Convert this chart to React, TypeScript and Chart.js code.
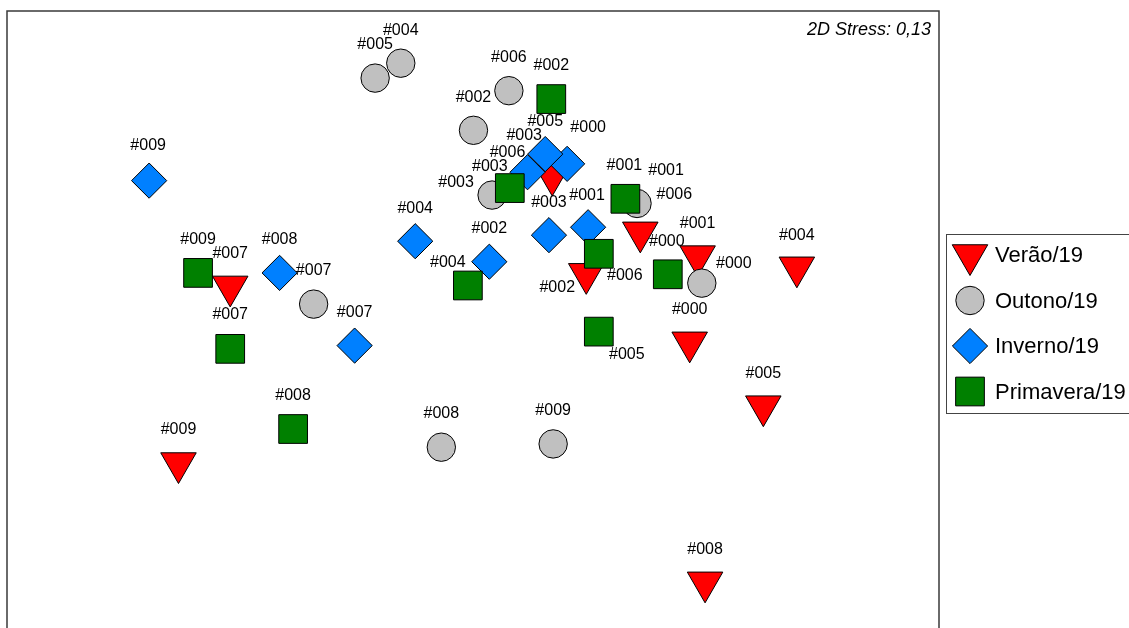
import React, { useEffect, useRef } from "react";
import { Chart, registerables } from "chart.js";
import { drawPoint } from "chart.js/helpers";

Chart.register(...registerables);

// ---- Data (NMDS coordinates) ----
const sampleIds = ["#000", "#001", "#002", "#003", "#004", "#005", "#006", "#007", "#008", "#009"];
const seasonNames = ["Verão/19", "Outono/19", "Inverno/19", "Primavera/19"];
const stressText = "2D Stress: 0,13";

const veraoX = [0.465, 0.482, 0.243, 0.17, 0.695, 0.623, 0.359, -0.521, 0.498, -0.632];
const veraoY = [-0.051, 0.134, 0.096, 0.307, 0.11, -0.188, 0.185, 0.069, -0.566, -0.31];

const outonoX = [0.491, 0.352, 0.001, 0.041, -0.155, -0.21, 0.077, -0.342, -0.068, 0.172];
const outonoY = [0.076, 0.247, 0.404, 0.265, 0.548, 0.516, 0.489, 0.031, -0.276, -0.269];

const invernoX = [0.202, 0.247, 0.035, 0.163, -0.124, 0.155, 0.117, -0.254, -0.415, -0.695];
const invernoY = [0.332, 0.196, 0.122, 0.179, 0.166, 0.353, 0.314, -0.058, 0.098, 0.296];

const primaveraX = [0.418, 0.327, 0.168, 0.079, -0.011, 0.27, 0.27, -0.521, -0.386, -0.59];
const primaveraY = [0.095, 0.257, 0.471, 0.28, 0.071, -0.028, 0.139, -0.065, -0.237, 0.098];

// ---- Label placement (pixel offsets from marker) ----
const veraoLabelOff = [[0, -33], [0, -33], [-29, 14], [-28, -40], [0, -32], [0, -33], [34, -38], [0, -33], [0, -33], [0, -33]];
const outonoLabelOff = [[32, -20], [29, -33], [0, -33], [-36, -12], [0, -33], [0, -34], [0, -33], [0, -34], [0, -34], [0, -33]];
const invernoLabelOff = [[21, -36], [-1, -32], [0, -33], [0, -33], [0, -33], [0, -32], [-20, -20], [0, -33], [0, -33], [-1, -35]];
const primaveraLabelOff = [[-1, -33], [-1, -33], [0, -33], [-20, -21], [-20, -23], [28, 23], [26, 22], [0, -34], [0, -33], [0, -33]];

const toPoints = (xs: number[], ys: number[]) => xs.map((x, i) => ({ x, y: ys[i] }));

const styles = [
  { pointStyle: "triangle", radius: 20.5, rotation: 180, color: "#FF0000", order: 4 },
  { pointStyle: "circle", radius: 14.2, rotation: 0, color: "#C0C0C0", order: 3 },
  { pointStyle: "rectRot", radius: 17.6, rotation: 0, color: "#0080FF", order: 2 },
  { pointStyle: "rect", radius: 20.3, rotation: 0, color: "#008000", order: 1 },
];

const labelOffsets = [veraoLabelOff, outonoLabelOff, invernoLabelOff, primaveraLabelOff];

const FONT = "'Liberation Sans', Arial, Helvetica, sans-serif";

const framePlugin = {
  id: "frame",
  beforeDraw(chart: any) {
    const { ctx, chartArea } = chart;
    ctx.save();
    ctx.fillStyle = "#fff";
    ctx.fillRect(0, 0, chart.width, chart.height);
    ctx.strokeStyle = "#3a3a3a";
    ctx.lineWidth = 1.5;
    ctx.beginPath();
    ctx.moveTo(chartArea.left, chart.height + 5);
    ctx.lineTo(chartArea.left, chartArea.top);
    ctx.lineTo(chartArea.right, chartArea.top);
    ctx.lineTo(chartArea.right, chart.height + 5);
    ctx.stroke();
    ctx.restore();
  },
  afterDraw(chart: any) {
    const { ctx, chartArea } = chart;
    ctx.save();
    ctx.fillStyle = "#000";
    ctx.font = `italic 18px ${FONT}`;
    ctx.textAlign = "right";
    ctx.textBaseline = "middle";
    ctx.fillText(stressText, chartArea.right - 8, chartArea.top + 19);
    ctx.restore();
  },
};

const labelPlugin = {
  id: "pointLabels",
  afterDatasetsDraw(chart: any) {
    const { ctx } = chart;
    ctx.save();
    ctx.fillStyle = "#000";
    ctx.font = `16px ${FONT}`;
    ctx.textAlign = "center";
    ctx.textBaseline = "middle";
    chart.data.datasets.forEach((ds: any, di: number) => {
      const meta = chart.getDatasetMeta(di);
      meta.data.forEach((el: any, i: number) => {
        const off = labelOffsets[di][i];
        ctx.fillText(sampleIds[i], el.x + off[0], el.y + off[1]);
      });
    });
    ctx.restore();
  },
};

const legendPlugin = {
  id: "boxLegend",
  afterDraw(chart: any) {
    const { ctx, chartArea } = chart;
    const left = chartArea.right + 7;
    const top = 234;
    const rowH = 45.5;
    ctx.save();
    ctx.strokeStyle = "#444";
    ctx.lineWidth = 1;
    ctx.strokeRect(left + 0.5, top + 0.5, chart.width, 179);
    ctx.font = `22px ${FONT}`;
    ctx.textAlign = "left";
    ctx.textBaseline = "middle";
    seasonNames.forEach((name, i) => {
      const s = styles[i];
      const cy = top + 21 + i * rowH;
      const cx = left + 24;
      ctx.fillStyle = s.color;
      ctx.strokeStyle = "#000";
      ctx.lineWidth = 1;
      drawPoint(ctx, { pointStyle: s.pointStyle, radius: s.radius, rotation: s.rotation, borderWidth: 1 } as any, cx, cy);
      ctx.fillStyle = "#000";
      ctx.fillText(name, left + 49, cy + 1);
    });
    ctx.restore();
  },
};

export default function App() {
  const ref = useRef<HTMLCanvasElement>(null);
  useEffect(() => {
    if (!ref.current) return;
    const series = [
      toPoints(veraoX, veraoY),
      toPoints(outonoX, outonoY),
      toPoints(invernoX, invernoY),
      toPoints(primaveraX, primaveraY),
    ];
    const chart = new Chart(ref.current, {
      type: "scatter",
      data: {
        datasets: series.map((data, i) => ({
          label: seasonNames[i],
          data,
          order: styles[i].order,
          pointStyle: styles[i].pointStyle as any,
          pointRadius: styles[i].radius,
          pointRotation: styles[i].rotation,
          backgroundColor: styles[i].color,
          borderColor: "#000",
          borderWidth: 1,
          pointHoverRadius: styles[i].radius,
          clip: false as any,
        })),
      },
      options: {
        animation: false,
        responsive: false,
        events: [],
        layout: { autoPadding: false, padding: { left: 7, top: 11, right: 190, bottom: 0 } },
        scales: {
          x: { type: "linear", min: -1, max: 1, display: false },
          y: { type: "linear", min: -0.664, max: 0.66, display: false },
        },
        plugins: {
          legend: { display: false },
          tooltip: { enabled: false },
        },
      },
      plugins: [framePlugin, labelPlugin, legendPlugin],
    });
    return () => chart.destroy();
  }, []);
  return (
    <div style={{ position: "absolute", left: 0, top: 0, width: 1129, height: 628, overflow: "hidden" }}>
      <canvas ref={ref} width={1129} height={628} style={{ display: "block" }} />
    </div>
  );
}
